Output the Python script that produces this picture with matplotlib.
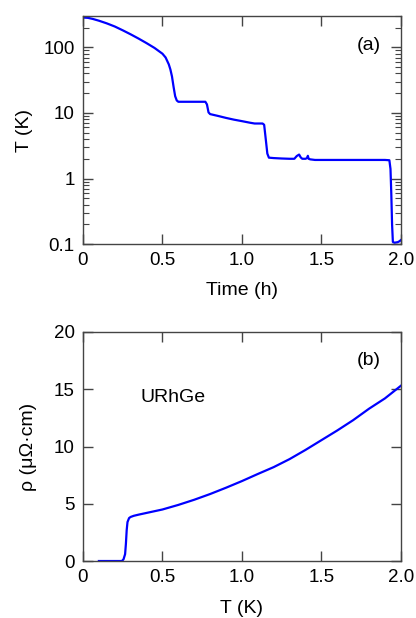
import matplotlib
matplotlib.use('Agg')
import matplotlib.pyplot as plt
from matplotlib.ticker import LogLocator, NullFormatter, FixedLocator

plt.rc('font', family=['Liberation Sans', 'DejaVu Sans'], size=14)
plt.rc('axes', linewidth=1.0, edgecolor='#444444')
plt.rc('xtick', labelsize=13.5, color='#444444', labelcolor='black')
plt.rc('ytick', labelsize=13.5, color='#444444', labelcolor='black')

# panel (a): cooldown, time (h) vs temperature (K)
time_h = [0.0, 0.03, 0.06, 0.1, 0.15, 0.2, 0.25, 0.3, 0.35, 0.4, 0.45, 0.5,
          0.52, 0.54, 0.55, 0.56, 0.57, 0.58, 0.59, 0.6, 0.65, 0.7, 0.77,
          0.78, 0.79, 0.8, 0.85, 0.9, 0.95, 1.0, 1.05, 1.08, 1.13, 1.14,
          1.15, 1.16, 1.17, 1.2, 1.25, 1.3, 1.33, 1.345, 1.36, 1.37, 1.38,
          1.4, 1.41, 1.415, 1.42, 1.43, 1.46, 1.5, 1.6, 1.7, 1.8, 1.9, 1.928,
          1.935, 1.94, 1.945, 1.95, 1.96, 1.98, 1.99, 2.0]
temp_K = [285, 282, 272, 255, 232, 208, 182, 158, 136, 116, 98, 80,
          70, 55, 46, 36, 25, 18, 15.5, 14.8, 14.8, 14.8, 14.8,
          13.5, 10.2, 9.6, 9.0, 8.4, 7.9, 7.5, 7.1, 6.9, 6.9, 6.6,
          4.0, 2.4, 2.08, 2.05, 2.02, 2.0, 2.0, 2.2, 2.32, 2.1, 2.0,
          2.0, 2.05, 2.22, 2.0, 1.96, 1.92, 1.92, 1.92, 1.92, 1.92, 1.92, 1.9,
          1.4, 0.6, 0.2, 0.108, 0.105, 0.107, 0.11, 0.115]

# panel (b): resistivity of URhGe
T_K = [0.1, 0.15, 0.2, 0.245, 0.255, 0.265, 0.27, 0.275, 0.28, 0.29, 0.3,
       0.32, 0.35, 0.4, 0.5, 0.6, 0.7, 0.8, 0.9, 1.0, 1.1, 1.2, 1.3,
       1.4, 1.5, 1.6, 1.7, 1.8, 1.9, 2.0]
rho = [0.0, 0.0, 0.0, 0.0, 0.15, 0.6, 1.5, 2.7, 3.4, 3.75, 3.85,
       3.95, 4.05, 4.2, 4.5, 4.9, 5.35, 5.85, 6.4, 6.98, 7.6, 8.2, 8.9,
       9.7, 10.55, 11.4, 12.3, 13.3, 14.2, 15.3]

fig = plt.figure(figsize=(4.16, 6.18), dpi=100)

ax1 = fig.add_axes([0.1995, 0.605, 0.764, 0.369])
ax1.plot(time_h, temp_K, color='#0000ff', lw=1.6)
ax1.set_yscale('log')
ax1.set_xlim(0, 2.0)
ax1.set_ylim(0.1, 300)
ax1.xaxis.set_major_locator(FixedLocator([0, 0.5, 1.0, 1.5, 2.0]))
ax1.set_xticklabels(['0', '0.5', '1.0', '1.5', '2.0'])
ax1.yaxis.set_major_locator(FixedLocator([0.1, 1, 10, 100]))
ax1.set_yticklabels(['0.1', '1', '10', '100'])
ax1.yaxis.set_minor_locator(LogLocator(base=10, subs=range(2, 10)))
ax1.yaxis.set_minor_formatter(NullFormatter())
ax1.tick_params(which='both', direction='in', top=True, right=True)
ax1.tick_params(which='major', length=7, width=1, pad=6)
ax1.tick_params(which='minor', length=4, width=0.8)
ax1.set_xlabel('Time (h)', labelpad=9)
ax1.set_ylabel('T (K)')
ax1.yaxis.set_label_coords(-0.157, 0.5)
ax1.text(0.9, 0.87, '(a)', transform=ax1.transAxes, ha='center', va='center')

ax2 = fig.add_axes([0.1995, 0.0922, 0.764, 0.3706])
ax2.plot(T_K, rho, color='#0000ff', lw=1.6)
ax2.set_xlim(0, 2.0)
ax2.set_ylim(0, 20)
ax2.xaxis.set_major_locator(FixedLocator([0, 0.5, 1.0, 1.5, 2.0]))
ax2.set_xticklabels(['0', '0.5', '1.0', '1.5', '2.0'])
ax2.yaxis.set_major_locator(FixedLocator([0, 5, 10, 15, 20]))
ax2.tick_params(which='both', direction='in', top=True, right=True)
ax2.tick_params(which='major', length=7, width=1, pad=6)
ax2.set_xlabel('T (K)', labelpad=10)
ax2.set_ylabel('ρ (μΩ·cm)')
ax2.yaxis.set_label_coords(-0.145, 0.5)
ax2.text(0.9, 0.875, '(b)', transform=ax2.transAxes, ha='center', va='center')
ax2.text(0.18, 0.715, 'URhGe', transform=ax2.transAxes, ha='left', va='center')

fig.savefig('out.png', dpi=100)
